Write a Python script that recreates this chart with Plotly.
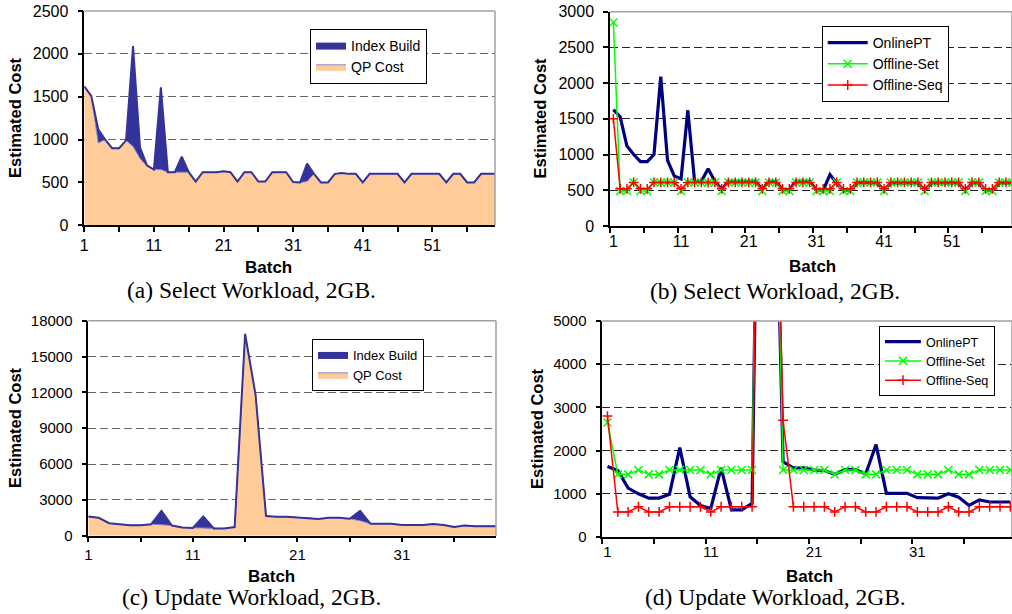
import plotly.graph_objects as go

# ---------------- data ----------------
batches_select = list(range(1, 61))
batches_update = list(range(1, 41))

# (a) Select workload, stacked area
a_qp_cost = [1620, 1510, 960, 1000, 900, 900, 990, 920, 780, 690,
             650, 650, 620, 620, 620, 620, 510, 620, 620, 620,
             630, 620, 510, 620, 620, 510, 510, 620, 620, 620,
             505, 500, 510, 600, 500, 500, 600, 610, 600, 600,
             500, 600, 600, 600, 600, 600, 500, 600, 600, 600,
             600, 600, 500, 600, 600, 500, 500, 600, 600, 600]
a_index_build = [0, 0, 160, 0, 0, 0, 0, 1170, 130, 10,
                 0, 960, 0, 0, 180, 0, 0, 0, 0, 0,
                 0, 0, 0, 0, 0, 0, 0, 0, 0, 0,
                 0, 0, 210, 0, 0, 0, 0, 0, 0, 0,
                 0, 0, 0, 0, 0, 0, 0, 0, 0, 0,
                 0, 0, 0, 0, 0, 0, 0, 0, 0, 0]

# (b) Select workload, lines
b_online_pt = [1630, 1530, 1120, 1000, 900, 900, 1000, 2090, 920, 700,
               660, 1620, 625, 625, 800, 625, 510, 625, 625, 625,
               630, 625, 510, 625, 625, 510, 510, 625, 625, 625,
               505, 500, 720, 600, 500, 500, 600, 610, 600, 600,
               500, 600, 600, 600, 600, 600, 500, 600, 600, 600,
               600, 600, 500, 600, 600, 500, 500, 600, 600, 600]
b_offline_set = [2850, 490, 490, 610, 490, 490, 610, 610, 610, 610,
                 490, 610, 610, 610, 610, 610, 490, 610, 610, 610,
                 610, 610, 490, 610, 610, 490, 490, 610, 610, 610,
                 490, 490, 490, 610, 490, 490, 610, 610, 610, 610,
                 490, 610, 610, 610, 610, 610, 490, 610, 610, 610,
                 610, 610, 490, 610, 610, 490, 490, 610, 610, 610]
b_offline_seq = [1500, 520, 520, 610, 520, 520, 610, 610, 610, 610,
                 520, 610, 610, 610, 610, 610, 520, 610, 610, 610,
                 610, 610, 520, 610, 610, 520, 520, 610, 610, 610,
                 520, 520, 520, 610, 520, 520, 610, 610, 610, 610,
                 520, 610, 610, 610, 610, 610, 520, 610, 610, 610,
                 610, 610, 520, 610, 610, 520, 520, 610, 610, 610]

# (c) Update workload, stacked area
c_qp_cost = [1600, 1500, 1050, 950, 880, 880, 950, 920, 850, 680,
             650, 650, 610, 610, 720, 16900, 11800, 1650, 1580, 1580,
             1520, 1500, 1400, 1500, 1500, 1420, 1250, 1000, 1000, 1000,
             900, 900, 900, 980, 900, 720, 850, 800, 800, 800]
c_index_build = [0, 0, 0, 0, 0, 0, 0, 1150, 0, 0,
                 0, 950, 0, 0, 0, 0, 0, 0, 0, 0,
                 0, 0, 0, 0, 0, 0, 820, 0, 0, 0,
                 0, 0, 0, 0, 0, 0, 0, 0, 0, 0]

# (d) Update workload, lines
d_online_pt = [1630, 1540, 1130, 1000, 900, 900, 990, 2070, 930, 730,
               660, 1600, 630, 630, 780, 16900, 11800, 1740, 1600, 1600,
               1550, 1540, 1450, 1560, 1560, 1460, 2140, 1010, 1010, 1010,
               910, 900, 900, 1000, 920, 730, 860, 810, 810, 810]
d_offline_set = [2650, 1450, 1450, 1550, 1450, 1450, 1550, 1550, 1550, 1550,
                 1450, 1550, 1550, 1550, 1550, 17000, 12300, 1550, 1550, 1550,
                 1550, 1550, 1450, 1550, 1550, 1450, 1450, 1550, 1550, 1550,
                 1450, 1450, 1450, 1550, 1450, 1450, 1550, 1550, 1550, 1550]
d_offline_seq = [2800, 580, 580, 700, 580, 580, 700, 700, 700, 700,
                 580, 700, 700, 700, 700, 17000, 12700, 2700, 700, 700,
                 700, 700, 580, 700, 700, 580, 580, 700, 700, 700,
                 580, 580, 580, 700, 580, 580, 700, 700, 700, 700]

select_labels = [1, 11, 21, 31, 41, 51]
update_labels = [1, 11, 21, 31]

# ---------------- layout helpers ----------------
W, H = 1012, 614
def px(x):
    return x / W
def py(y):
    return 1 - y / H

SANS = "Liberation Sans, Arial, sans-serif"
SERIF = "Liberation Serif, Times New Roman, serif"
NAVY_AREA = "#333399"
PEACH = "#FFCC99"
NAVY = "#000080"
GREEN = "#00FF00"
RED = "#FF0000"

fig = go.Figure()

# (a)
fig.add_trace(go.Scatter(x=batches_select, y=a_qp_cost, name="QP Cost", mode="lines",
                         stackgroup="a", fillcolor=PEACH, line=dict(color="#8888C8", width=1),
                         xaxis="x", yaxis="y", legend="legend"))
fig.add_trace(go.Scatter(x=batches_select, y=a_index_build, name="Index Build", mode="lines",
                         stackgroup="a", fillcolor=NAVY_AREA, line=dict(color=NAVY_AREA, width=2),
                         xaxis="x", yaxis="y", legend="legend"))
# (b)
fig.add_trace(go.Scatter(x=batches_select, y=b_online_pt, name="OnlinePT", mode="lines",
                         line=dict(color=NAVY, width=3.2), xaxis="x2", yaxis="y2", legend="legend2"))
fig.add_trace(go.Scatter(x=batches_select, y=b_offline_set, name="Offline-Set", mode="lines+markers",
                         line=dict(color=GREEN, width=1.5),
                         marker=dict(symbol="x-thin", size=8, color=GREEN, line=dict(color=GREEN, width=1.5)),
                         xaxis="x2", yaxis="y2", legend="legend2"))
fig.add_trace(go.Scatter(x=batches_select, y=b_offline_seq, name="Offline-Seq", mode="lines+markers",
                         line=dict(color=RED, width=1.5),
                         marker=dict(symbol="cross-thin", size=7, color=RED, line=dict(color=RED, width=1.5)),
                         xaxis="x2", yaxis="y2", legend="legend2"))
# (c)
fig.add_trace(go.Scatter(x=batches_update, y=c_qp_cost, name="QP Cost", mode="lines",
                         stackgroup="c", fillcolor=PEACH, line=dict(color="#8888C8", width=1),
                         xaxis="x3", yaxis="y3", legend="legend3"))
fig.add_trace(go.Scatter(x=batches_update, y=c_index_build, name="Index Build", mode="lines",
                         stackgroup="c", fillcolor=NAVY_AREA, line=dict(color=NAVY_AREA, width=2),
                         xaxis="x3", yaxis="y3", legend="legend3"))
# (d)
fig.add_trace(go.Scatter(x=batches_update, y=d_online_pt, name="OnlinePT", mode="lines",
                         line=dict(color=NAVY, width=3.2), xaxis="x4", yaxis="y4", legend="legend4"))
fig.add_trace(go.Scatter(x=batches_update, y=d_offline_set, name="Offline-Set", mode="lines+markers",
                         line=dict(color=GREEN, width=1.5),
                         marker=dict(symbol="x-thin", size=8, color=GREEN, line=dict(color=GREEN, width=1.5)),
                         xaxis="x4", yaxis="y4", legend="legend4"))
fig.add_trace(go.Scatter(x=batches_update, y=d_offline_seq, name="Offline-Seq", mode="lines+markers",
                         line=dict(color=RED, width=1.5),
                         marker=dict(symbol="cross-thin", size=7, color=RED, line=dict(color=RED, width=1.5)),
                         xaxis="x4", yaxis="y4", legend="legend4"))


def xaxis(domain, rng, labels, anchor, between, fs):
    d = dict(domain=domain, range=rng, anchor=anchor, tickmode="array", tickvals=labels,
             ticktext=[str(v) for v in labels], showline=True, linecolor="black", linewidth=1.5,
             showgrid=False, zeroline=False, tickfont=dict(family=SANS, size=fs, color="black"),
             ticklabelstandoff=0, fixedrange=True, automargin=False)
    if between:
        d.update(ticks="", minor=dict(ticks="outside", tick0=0.5, dtick=5, ticklen=5,
                                      tickcolor="black", tickwidth=1.5, showgrid=False))
    else:
        d.update(ticks="outside", ticklen=5, tickcolor="black", tickwidth=1.5,
                 minor=dict(ticks="outside", tick0=1, dtick=5, ticklen=5,
                            tickcolor="black", tickwidth=1.5, showgrid=False))
    return d


def yaxis(domain, rng, dtick, anchor, fs, gc):
    return dict(domain=domain, range=rng, dtick=dtick, anchor=anchor, tickmode="linear", tick0=0,
                tickformat="d",
                ticks="outside", ticklen=5, tickcolor="black", tickwidth=1.5,
                showline=True, linecolor="black", linewidth=1.5, zeroline=False,
                showgrid=True, gridcolor=gc, gridwidth=1, griddash="8px,4px",
                tickfont=dict(family=SANS, size=fs, color="black"), ticklabelstandoff=6,
                fixedrange=True, automargin=False)


def legend(x, y, order, fs, iw):
    return dict(x=px(x), y=py(y), xanchor="left", yanchor="top", traceorder=order,
                bgcolor="white", bordercolor="black", borderwidth=1,
                font=dict(family=SANS, size=fs, color="black"), itemwidth=iw, tracegroupgap=0)


fig.update_layout(
    template="none",
    width=W, height=H, margin=dict(l=0, r=0, t=0, b=0, pad=0),
    paper_bgcolor="white", plot_bgcolor="white",
    font=dict(family=SANS, color="black"),
    xaxis=xaxis([px(84.3), px(495)], [1, 60], select_labels, "y", False, 16),
    yaxis=yaxis([py(225.3), py(11)], [0, 2500], 500, "x", 16, "#666666"),
    xaxis2=xaxis([px(610), 1.0], [0.5, 59.9], select_labels, "y2", True, 16),
    yaxis2=yaxis([py(226), py(11.7)], [0, 3000], 500, "x2", 16, "#222222"),
    xaxis3=xaxis([px(88.3), px(496)], [1, 40], update_labels, "y3", False, 15),
    yaxis3=yaxis([py(535.7), py(320.7)], [0, 18000], 3000, "x3", 15, "#666666"),
    xaxis4=xaxis([px(602.3), 1.0], [0.5, 40.16], update_labels, "y4", True, 15),
    yaxis4=yaxis([py(537), py(321)], [0, 5000], 1000, "x4", 15, "#222222"),
    legend=legend(310, 29, "reversed", 14, 30),
    legend2=legend(821.7, 26, "normal", 14, 40),
    legend3=legend(312, 339, "reversed", 13, 30),
    legend4=legend(879, 326, "normal", 12.5, 36),
    showlegend=True,
)

# gray plot-area frame (top and right edges)
shapes = []
for xa, ya in [("x", "y"), ("x2", "y2"), ("x3", "y3"), ("x4", "y4")]:
    shapes.append(dict(type="line", xref=f"{xa} domain", yref=f"{ya} domain", x0=0, x1=1, y0=1, y1=1,
                       line=dict(color="#A0A0A0", width=1.5), layer="above"))
    shapes.append(dict(type="line", xref=f"{xa} domain", yref=f"{ya} domain", x0=1, x1=1, y0=0, y1=1,
                       line=dict(color="#A0A0A0", width=1.5), layer="above"))
fig.update_layout(shapes=shapes)

# axis titles and captions
ann = []
for (xc, yc) in [(15, 118), (539.5, 118), (15, 428), (537, 429)]:
    ann.append(dict(text="<b>Estimated Cost</b>", x=px(xc), y=py(yc), xref="paper", yref="paper",
                    textangle=-90, showarrow=False, font=dict(family=SANS, size=16.5, color="black"),
                    xanchor="center", yanchor="middle"))
for (xc, yc) in [(268.8, 267), (812.8, 266.7), (271, 576.7), (809, 576.7)]:
    ann.append(dict(text="<b>Batch</b>", x=px(xc), y=py(yc), xref="paper", yref="paper",
                    showarrow=False, font=dict(family=SANS, size=17, color="black"),
                    xanchor="center", yanchor="middle"))
captions = [("(a) Select Workload, 2GB.", 251.7, 289.5),
            ("(b) Select Workload, 2GB.", 775, 291),
            ("(c) Update Workload, 2GB.", 251.7, 597),
            ("(d) Update Workload, 2GB.", 775, 597.3)]
for (t, xc, yc) in captions:
    ann.append(dict(text=t, x=px(xc), y=py(yc), xref="paper", yref="paper", showarrow=False,
                    font=dict(family=SERIF, size=23.5, color="black"), xanchor="center", yanchor="middle"))
fig.update_layout(annotations=ann)

fig.write_html("out.html", config={"displayModeBar": False},
               post_script="document.body.style.margin='0px';document.body.style.overflow='hidden';")
